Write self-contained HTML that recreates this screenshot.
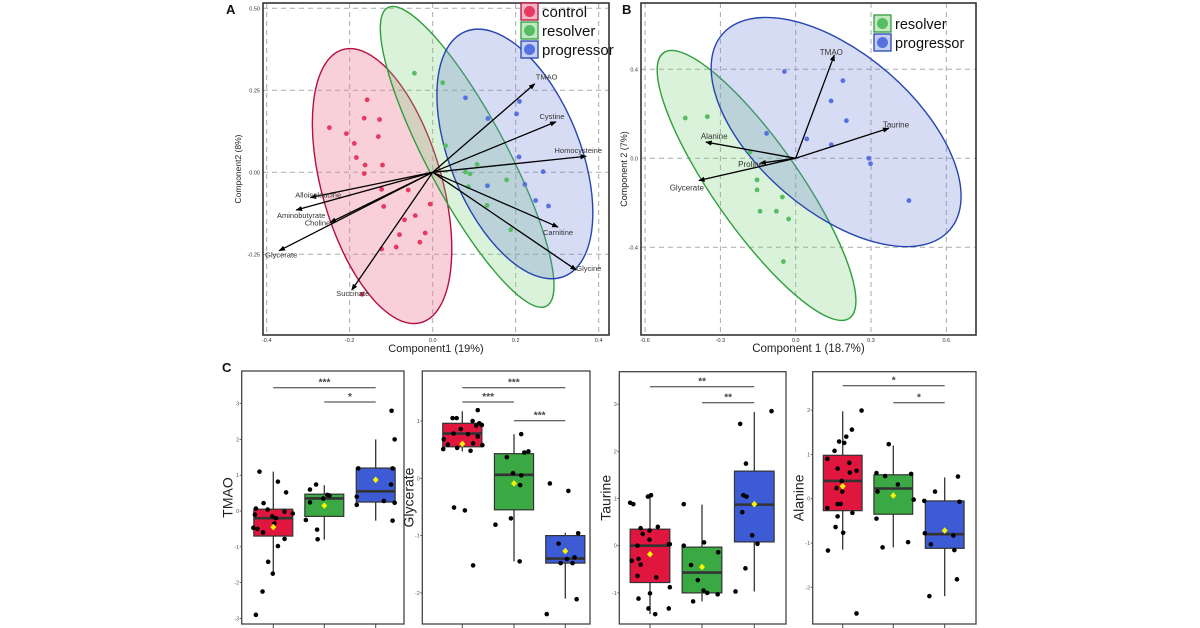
<!DOCTYPE html>
<html><head><meta charset="utf-8"><style>
html,body{margin:0;padding:0;background:#fff;}
svg{display:block;font-family:"Liberation Sans",sans-serif;}
</style></head><body>
<svg id="fig" width="1200" height="628" viewBox="0 0 1200 628" xmlns="http://www.w3.org/2000/svg">
<defs>
<marker id="ah" viewBox="0 0 10 10" refX="9" refY="5" markerWidth="5" markerHeight="5" orient="auto"><path d="M0,1 L10,5 L0,9 z" fill="#000"/></marker>
</defs>
</svg>
<script>
// ===== Panel A data =====
const aControlX=[-0.249,-0.208,-0.189,-0.158,-0.165,-0.128,-0.131,-0.184,-0.163,-0.121,-0.165,-0.123,-0.059,-0.118,-0.006,-0.068,-0.042,-0.080,-0.018,-0.031,-0.088,-0.123,-0.170];
const aControlY=[0.136,0.118,0.088,0.221,0.165,0.161,0.109,0.045,0.022,0.022,-0.004,-0.052,-0.054,-0.104,-0.097,-0.145,-0.132,-0.190,-0.185,-0.213,-0.228,-0.234,-0.372];
const aResolverX=[-0.044,0.024,0.031,0.107,0.079,0.090,0.086,0.178,0.131,0.188];
const aResolverY=[0.302,0.273,0.081,0.024,0.001,-0.005,-0.044,-0.023,-0.101,-0.175];
const aProgX=[0.079,0.133,0.209,0.202,0.208,0.266,0.132,0.222,0.248,0.279];
const aProgY=[0.227,0.164,0.216,0.178,0.047,0.002,-0.041,-0.037,-0.086,-0.103];
const aLoadNames=["TMAO","Cystine","Homocysteine","Carnitine","Glycine","Alloisoleucine","Aminobutyrate","Choline","Glycerate","Succinate"];
const aLoadX=[0.246,0.297,0.370,0.302,0.346,-0.295,-0.329,-0.247,-0.370,-0.195];
const aLoadY=[0.270,0.154,0.049,-0.167,-0.298,-0.077,-0.115,-0.153,-0.239,-0.359];
const aXTicks=[-0.4,-0.2,0.0,0.2,0.4];
const aYTicks=[0.50,0.25,0.00,-0.25];
// ===== Panel B data =====
const bResolverX=[-0.440,-0.352,-0.182,-0.154,-0.154,-0.053,-0.142,-0.077,-0.028,-0.049];
const bResolverY=[0.181,0.187,0.028,-0.097,-0.142,-0.174,-0.238,-0.238,-0.273,-0.464];
const bProgX=[-0.045,0.188,0.141,0.202,-0.116,0.044,0.142,0.291,0.298,0.451];
const bProgY=[0.390,0.349,0.258,0.169,0.112,0.087,0.061,0.000,-0.024,-0.190];
const bLoadNames=["TMAO","Taurine","Alanine","Glycerate","Proline"];
const bLoadX=[0.154,0.371,-0.358,-0.386,-0.142];
const bLoadY=[0.464,0.135,0.073,-0.100,-0.022];
const bXTicks=[-0.6,-0.3,0.0,0.3,0.6];
const bYTicks=[0.4,0.0,-0.4];
// ===== Panel C data =====
const cGroups=["control","resolver","progressor"];
const tmaoQ1=[-0.7,-0.15,0.25], tmaoMed=[-0.2,0.35,0.55], tmaoQ3=[0.05,0.47,1.2], tmaoLo=[-1.75,-0.8,-0.27], tmaoHi=[1.1,0.72,2.0], tmaoMean=[-0.45,0.15,0.87];
const glyQ1=[0.55,-0.55,-1.48], glyMed=[0.78,0.06,-1.4], glyQ3=[0.96,0.43,-1.0], glyLo=[0.47,-1.45,-2.1], glyHi=[1.17,0.77,-0.95], glyMean=[0.6,-0.09,-1.27];
const tauQ1=[-0.78,-1.0,0.08], tauMed=[0.0,-0.57,0.87], tauQ3=[0.35,-0.03,1.58], tauLo=[-1.45,-1.18,-0.97], tauHi=[1.05,0.87,2.83], tauMean=[-0.18,-0.45,0.88];
const alaQ1=[-0.27,-0.35,-1.12], alaMed=[0.4,0.23,-0.8], alaQ3=[0.98,0.54,-0.05], alaLo=[-1.15,-1.1,-2.2], alaHi=[1.97,1.2,0.48], alaMean=[0.28,0.07,-0.72];
// points: [group, jitter, value]
const tmaoPts=[[0,-0.27,1.1],[0,0.09,0.82],[0,0.25,0.52],[0,-0.19,0.22],[0,-0.34,0.07],[0,-0.11,0.04],[0,-0.36,-0.1],[0,-0.39,-0.47],[0,-0.31,-0.5],[0,-0.2,-0.6],[0,-0.02,-0.15],[0,0.05,-0.2],[0,0.02,-0.35],[0,0.22,-0.02],[0,0.38,-0.07],[0,0.22,-0.78],[0,0.09,-0.98],[0,-0.1,-1.42],[0,-0.01,-1.75],[0,-0.21,-2.25],[0,-0.34,-2.9],
[1,-0.28,0.6],[1,-0.16,0.74],[1,-0.28,0.24],[1,-0.36,-0.25],[1,-0.14,-0.52],[1,-0.13,-0.79],[1,0.06,0.45],[1,0.1,0.43],[1,-0.02,0.35],
[2,-0.34,1.19],[2,-0.37,0.4],[2,-0.37,0.17],[2,0.16,0.28],[2,0.3,0.74],[2,0.33,1.19],[2,0.37,0.23],[2,0.37,2.0],[2,0.31,2.8],[2,0.33,-0.27]];
const glyPts=[[0,-0.37,0.51],[0,-0.28,0.59],[0,-0.36,0.68],[0,-0.17,0.78],[0,-0.19,1.05],[0,-0.11,1.05],[0,-0.03,0.86],[0,-0.1,0.53],[0,0.11,0.77],[0,0.16,0.48],[0,0.2,1.0],[0,0.27,0.92],[0,0.3,1.19],[0,0.3,0.73],[0,0.38,0.93],[0,0.33,0.96],[0,0.21,0.61],[0,0.39,0.58],[0,-0.16,-0.51],[0,0.05,-0.56],[0,0.21,-1.52],
[1,-0.14,0.37],[1,-0.02,0.09],[1,0.14,0.77],[1,0.2,0.45],[1,0.28,0.47],[1,0.14,0.05],[1,0.12,-0.12],[1,-0.06,-0.7],[1,-0.36,-0.81],[1,0.11,-1.45],
[2,-0.3,-0.09],[2,0.06,-0.22],[2,-0.13,-1.14],[2,-0.09,-1.48],[2,0.03,-1.41],[2,0.14,-1.48],[2,0.18,-1.38],[2,0.25,-0.96],[2,0.22,-2.11],[2,-0.36,-2.37]];
const tauPts=[[0,-0.38,0.91],[0,-0.32,0.88],[0,-0.04,1.04],[0,0.02,1.07],[0,-0.18,0.37],[0,-0.14,0.25],[0,-0.01,0.32],[0,0.15,0.4],[0,-0.24,0],[0,-0.01,0.13],[0,0.36,0.03],[0,0.38,0.03],[0,-0.35,-0.32],[0,-0.22,-0.28],[0,-0.18,-0.4],[0,-0.24,-0.64],[0,0.12,-0.67],[0,0.38,-0.88],[0,-0.22,-1.12],[0,0,-1.01],[0,-0.03,-1.33],[0,0.1,-1.45],[0,0.36,-1.33],
[1,-0.35,0.88],[1,-0.35,0],[1,0.04,0.07],[1,0.31,-0.14],[1,-0.21,-0.41],[1,-0.08,-0.73],[1,0.03,-0.95],[1,0.1,-1.0],[1,0.3,-1.03],[1,-0.17,-1.18],
[2,-0.27,2.58],[2,-0.16,1.74],[2,-0.21,1.07],[2,-0.15,1.04],[2,-0.23,0.71],[2,-0.04,0.22],[2,0.06,0.04],[2,0.33,2.85],[2,-0.17,-0.48],[2,-0.36,-0.97]];
const alaPts=[[0,0.37,1.99],[0,0.18,1.56],[0,0.07,1.4],[0,-0.07,1.29],[0,0.03,1.26],[0,-0.16,1.08],[0,-0.3,0.9],[0,0.13,0.81],[0,0.27,0.63],[0,-0.1,0.68],[0,0.14,0.59],[0,-0.02,0.4],[0,-0.12,0.24],[0,-0.01,0.16],[0,-0.1,-0.12],[0,-0.04,-0.12],[0,-0.3,-0.21],[0,0.19,-0.32],[0,-0.1,-0.4],[0,-0.14,-0.64],[0,0.01,-0.77],[0,-0.29,-1.17],[0,0.27,-2.59],
[1,-0.09,1.23],[1,-0.33,0.58],[1,-0.16,0.51],[1,0.35,0.56],[1,0.09,0.32],[1,-0.31,0.16],[1,0.4,-0.02],[1,-0.33,-0.45],[1,-0.21,-1.1],[1,0.29,-0.98],
[2,0.26,0.5],[2,-0.19,0.16],[2,-0.4,-0.05],[2,0.29,-0.07],[2,-0.39,-0.78],[2,-0.27,-1.03],[2,0.17,-0.83],[2,0.19,-1.16],[2,0.24,-1.82],[2,-0.3,-2.2]];
const tmaoSig=[[0,2,"***"],[1,2,"*"]];
const glySig=[[0,2,"***"],[0,1,"***"],[1,2,"***"]];
const tauSig=[[0,2,"**"],[1,2,"**"]];
const alaSig=[[0,2,"*"],[1,2,"*"]];
const tmaoTicks=[-3,-2,-1,0,1,2,3], glyTicks=[-2,-1,0,1], tauTicks=[-1,0,1,2,3], alaTicks=[-2,-1,0,1,2];

const NS="http://www.w3.org/2000/svg";
const svg=document.getElementById('fig');
function el(tag,attrs,name,parent){
  const e=document.createElementNS(NS,tag);
  for(const k in attrs) e.setAttribute(k,attrs[k]);
  
  
  (parent||svg).appendChild(e);
  return e;
}
function txt(s,attrs,name,parent){const t=el('text',attrs,name,parent);t.textContent=s;return t;}

function pcaPanel(cfg){
  const g=el('g',{},cfg.name);
  const sx=v=>cfg.x0+v*cfg.kx, sy=v=>cfg.y0-v*cfg.ky;
  cfg.xt.forEach(v=>el('line',{x1:sx(v),x2:sx(v),y1:cfg.top,y2:cfg.bottom,stroke:'#aaa','stroke-dasharray':'5,4','stroke-width':1},'x-grid-line',g));
  cfg.yt.forEach(v=>el('line',{x1:cfg.left,x2:cfg.right,y1:sy(v),y2:sy(v),stroke:'#aaa','stroke-dasharray':'5,4','stroke-width':1},'y-grid-line',g));
  cfg.ell.forEach(e=>{
    el('ellipse',{cx:0,cy:0,rx:e.rx,ry:e.ry,fill:e.fill,stroke:e.stroke,'stroke-width':1.4,transform:`translate(${sx(e.cx)},${sy(e.cy)}) rotate(${e.rot})`},e.name,g);
  });
  cfg.series.forEach(s=>{
    s.x.forEach((v,i)=>el('circle',{cx:sx(v),cy:sy(s.y[i]),r:2.4,fill:s.color},s.name+'-point',g));
  });
  cfg.loads.names.forEach((n,i)=>{
    el('line',{x1:sx(0),y1:sy(0),x2:sx(cfg.loads.x[i]),y2:sy(cfg.loads.y[i]),stroke:'#000','stroke-width':1.3,'marker-end':'url(#ah)'},'loading-arrow-'+n.toLowerCase(),g);
    const o=cfg.loads.off[i];
    txt(n,{x:sx(cfg.loads.x[i])+o[0],y:sy(cfg.loads.y[i])+o[1],'font-size':cfg.lfs,fill:'#333','text-anchor':o[2]},'loading-label-'+n.toLowerCase(),g);
  });
  el('rect',{x:cfg.left,y:cfg.top,width:cfg.right-cfg.left,height:cfg.bottom-cfg.top,fill:'none',stroke:'#333','stroke-width':1.6},'plot-frame',g);
  cfg.xt.forEach(v=>txt(cfg.xfmt(v),{x:sx(v),y:cfg.bottom+7,'font-size':5.5,fill:'#333','text-anchor':'middle'},'x-tick-label',g));
  cfg.yt.forEach(v=>txt(cfg.yfmt(v),{x:cfg.left-3,y:sy(v)+2,'font-size':5.5,fill:'#333','text-anchor':'end'},'y-tick-label',g));
  txt(cfg.xtitle,{x:(cfg.left+cfg.right)/2,y:cfg.bottom+17,'font-size':cfg.tfs,fill:'#222','text-anchor':'middle'},'x-axis-title',g);
  txt(cfg.ytitle,{x:0,y:0,'font-size':cfg.ytfs,fill:'#222','text-anchor':'middle',transform:`translate(${cfg.ytx},${(cfg.top+cfg.bottom)/2}) rotate(-90)`},'y-axis-title',g);
  cfg.legend.forEach((l,i)=>{
    const y=cfg.legY+i*cfg.legStep;
    el('rect',{x:cfg.legX,y:y,width:17,height:17,fill:l.fill,stroke:l.stroke,'stroke-width':1.3},'legend-swatch-'+l.label,g);
    el('circle',{cx:cfg.legX+8.5,cy:y+8.5,r:5.5,fill:l.dot},'legend-dot-'+l.label,g);
    txt(l.label,{x:cfg.legX+21,y:y+14,'font-size':cfg.legfs,fill:'#111'},'legend-entry-'+l.label,g);
  });
}
const RED='#e53a62',GRN='#55bd63',BLU='#5672e0';
pcaPanel({name:'panel-a-biplot',left:263,right:609,top:3,bottom:335,x0:432.7,kx:415,y0:172.3,ky:328,
  xt:aXTicks,yt:aYTicks,xfmt:v=>v.toFixed(1),yfmt:v=>v.toFixed(2),
  ell:[{cx:-0.122,cy:-0.042,rx:60,ry:142,rot:-16,fill:'rgba(238,120,150,0.35)',stroke:'#b51040',name:'control-ellipse'},
       {cx:0.083,cy:0.047,rx:40,ry:169,rot:-28,fill:'rgba(120,210,120,0.28)',stroke:'#2f9e3c',name:'resolver-ellipse'},
       {cx:0.198,cy:0.056,rx:65,ry:132,rot:-22,fill:'rgba(110,130,220,0.28)',stroke:'#2545b0',name:'progressor-ellipse'}],
  series:[{x:aControlX,y:aControlY,color:RED,name:'control'},{x:aResolverX,y:aResolverY,color:GRN,name:'resolver'},{x:aProgX,y:aProgY,color:BLU,name:'progressor'}],
  loads:{names:aLoadNames,x:aLoadX,y:aLoadY,off:[[1,-4,'start'],[-4,-3,'middle'],[-8,-3,'middle'],[0,8,'middle'],[0,1,'start'],[-15,0,'start'],[5,8,'middle'],[0,3,'end'],[-14,7,'start'],[1,6,'middle']]},
  lfs:7.5,xtitle:'Component1 (19%)',ytitle:'Component2 (8%)',tfs:11,ytfs:8.5,ytx:241,
  legend:[{label:'control',fill:'#f4b6c6',stroke:'#b51040',dot:RED},{label:'resolver',fill:'#c4e8c4',stroke:'#2f9e3c',dot:GRN},{label:'progressor',fill:'#c6cff2',stroke:'#2545b0',dot:BLU}],
  legX:521,legY:3,legStep:19,legfs:15});
pcaPanel({name:'panel-b-biplot',left:641,right:976,top:3,bottom:335,x0:795.7,kx:251,y0:158.3,ky:222.5,
  xt:bXTicks,yt:bYTicks,xfmt:v=>v.toFixed(1),yfmt:v=>v.toFixed(1),
  ell:[{cx:-0.156,cy:-0.122,rx:43,ry:162,rot:-35,fill:'rgba(120,210,120,0.28)',stroke:'#2f9e3c',name:'resolver-ellipse'},
       {cx:0.161,cy:0.118,rx:150,ry:79,rot:40.6,fill:'rgba(110,130,220,0.28)',stroke:'#2545b0',name:'progressor-ellipse'}],
  series:[{x:bResolverX,y:bResolverY,color:GRN,name:'resolver'},{x:bProgX,y:bProgY,color:BLU,name:'progressor'}],
  loads:{names:bLoadNames,x:bLoadX,y:bLoadY,off:[[-3,0,'middle'],[-6,-1,'start'],[-5,-3,'start'],[-12,10,'middle'],[3,4,'end']]},
  lfs:8,xtitle:'Component 1 (18.7%)',ytitle:'Component 2 (7%)',tfs:11.5,ytfs:9,ytx:627,
  legend:[{label:'resolver',fill:'#c4e8c4',stroke:'#2f9e3c',dot:GRN},{label:'progressor',fill:'#c6cff2',stroke:'#2545b0',dot:BLU}],
  legX:874,legY:15,legStep:19,legfs:14.5});
txt('A',{x:226,y:14,'font-size':13,'font-weight':'bold',fill:'#111'},'panel-label-a');
txt('B',{x:622,y:14,'font-size':13,'font-weight':'bold',fill:'#111'},'panel-label-b');
txt('C',{x:222,y:372,'font-size':13,'font-weight':'bold',fill:'#111'},'panel-label-c');

const BOXC=['#e0163f','#3aa843','#3d5bd5'];
function boxPanel(cfg){
  const g=el('g',{},cfg.name);
  const sy=v=>cfg.y0-v*cfg.unit;
  const bw=cfg.sp*0.76;
  cfg.q1.forEach((q,i)=>{
    const cx=cfg.cats[i];
    el('line',{x1:cx,x2:cx,y1:sy(cfg.lo[i]),y2:sy(cfg.hi[i]),stroke:'#333','stroke-width':1.3},'whisker-'+cGroups[i],g);
    el('rect',{x:cx-bw/2,y:sy(cfg.q3[i]),width:bw,height:sy(q)-sy(cfg.q3[i]),fill:BOXC[i],stroke:'#333','stroke-width':1.2},'box-'+cGroups[i],g);
    el('line',{x1:cx-bw/2,x2:cx+bw/2,y1:sy(cfg.med[i]),y2:sy(cfg.med[i]),stroke:'#333','stroke-width':2.6},'median-'+cGroups[i],g);
  });
  cfg.pts.forEach(p=>{
    el('circle',{cx:cfg.cats[p[0]]+p[1]*cfg.sp,cy:sy(p[2]),r:2.3,fill:'#000'},'data-point',g);
  });
  cfg.mean.forEach((m,i)=>{
    const cx=cfg.cats[i],cy=sy(m);
    el('path',{d:`M${cx},${cy-3.3}L${cx+3},${cy}L${cx},${cy+3.3}L${cx-3},${cy}Z`,fill:'#f5f500'},'mean-marker-'+cGroups[i],g);
  });
  el('rect',{x:cfg.left,y:cfg.top,width:cfg.right-cfg.left,height:cfg.bottom-cfg.top,fill:'none',stroke:'#444','stroke-width':1.3},'plot-frame',g);
  cfg.ticks.forEach(v=>{
    el('line',{x1:cfg.left-2,x2:cfg.left,y1:sy(v),y2:sy(v),stroke:'#444','stroke-width':0.8},'y-tick',g);
    txt(String(v),{x:cfg.left-2.5,y:sy(v)+2,'font-size':5.5,fill:'#555','text-anchor':'end'},'y-tick-label',g);
  });
  cfg.cats.forEach(cx=>el('line',{x1:cx,x2:cx,y1:cfg.bottom,y2:cfg.bottom+4,stroke:'#444','stroke-width':1},'x-tick',g));
  txt(cfg.title,{x:0,y:0,'font-size':14,fill:'#222','text-anchor':'middle',transform:`translate(${cfg.left-9},${(cfg.top+cfg.bottom)/2}) rotate(-90)`},'y-axis-title',g);
  cfg.sig.forEach((s,i)=>{
    const y=cfg.sigY[i];
    el('line',{x1:cfg.cats[s[0]],x2:cfg.cats[s[1]],y1:y,y2:y,stroke:'#333','stroke-width':1},'significance-bar',g);
    txt(s[2],{x:(cfg.cats[s[0]]+cfg.cats[s[1]])/2,y:y-2,'font-size':10,'font-weight':'bold',fill:'#444','text-anchor':'middle'},'significance-stars',g);
  });
}
boxPanel({name:'tmao-boxplot',left:241.7,right:404,top:371,bottom:624,y0:511,unit:35.8,cats:[273.3,324.3,375.7],sp:51.2,
  q1:tmaoQ1,med:tmaoMed,q3:tmaoQ3,lo:tmaoLo,hi:tmaoHi,mean:tmaoMean,pts:tmaoPts,ticks:tmaoTicks,sig:tmaoSig,sigY:[387.7,402],title:'TMAO'});
boxPanel({name:'glycerate-boxplot',left:422.3,right:590,top:371,bottom:624,y0:478.3,unit:57.3,cats:[462.3,514,565.3],sp:51.5,
  q1:glyQ1,med:glyMed,q3:glyQ3,lo:glyLo,hi:glyHi,mean:glyMean,pts:glyPts,ticks:glyTicks,sig:glySig,sigY:[387.7,402,420.7],title:'Glycerate'});
boxPanel({name:'taurine-boxplot',left:619.3,right:786,top:371.7,bottom:624,y0:545.7,unit:47.2,cats:[650,702,754.3],sp:52.2,
  q1:tauQ1,med:tauMed,q3:tauQ3,lo:tauLo,hi:tauHi,mean:tauMean,pts:tauPts,ticks:tauTicks,sig:tauSig,sigY:[386.7,402.7],title:'Taurine'});
boxPanel({name:'alanine-boxplot',left:812.7,right:976,top:371.7,bottom:624,y0:498.7,unit:44.3,cats:[842.7,893.3,944.7],sp:51,
  q1:alaQ1,med:alaMed,q3:alaQ3,lo:alaLo,hi:alaHi,mean:alaMean,pts:alaPts,ticks:alaTicks,sig:alaSig,sigY:[385.7,402.7],title:'Alanine'});
</script>
</body></html>
